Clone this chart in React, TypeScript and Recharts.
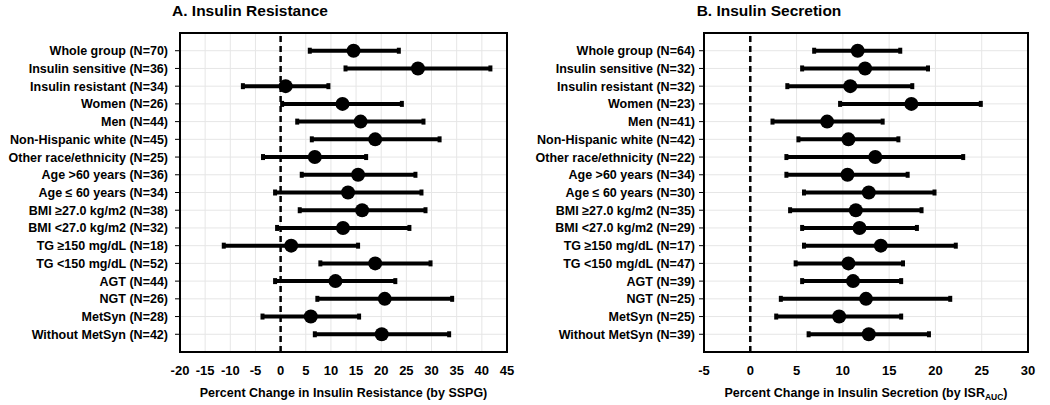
import React from 'react';
import { ScatterChart, Scatter, XAxis, YAxis, CartesianGrid, ErrorBar, ReferenceLine, ReferenceArea } from 'recharts';

const groupsA = [
  'Whole group (N=70)',
  'Insulin sensitive (N=36)',
  'Insulin resistant (N=34)',
  'Women (N=26)',
  'Men (N=44)',
  'Non-Hispanic white (N=45)',
  'Other race/ethnicity (N=25)',
  'Age >60 years (N=36)',
  'Age \u2264 60 years (N=34)',
  'BMI \u226527.0 kg/m2 (N=38)',
  'BMI <27.0 kg/m2 (N=32)',
  'TG \u2265150 mg/dL (N=18)',
  'TG <150 mg/dL (N=52)',
  'AGT (N=44)',
  'NGT (N=26)',
  'MetSyn (N=28)',
  'Without MetSyn (N=42)',
];
const changeA = [14.5, 27.3, 1.0, 12.3, 15.9, 18.8, 6.8, 15.4, 13.4, 16.2, 12.4, 2.1, 18.8, 10.9, 20.7, 6.0, 20.1];
const lowA = [5.8, 12.9, -7.5, 0.3, 3.3, 6.2, -3.5, 4.2, -1.1, 3.8, -0.7, -11.3, 7.9, -1.1, 7.3, -3.6, 6.8];
const highA = [23.5, 41.7, 9.5, 24.1, 28.4, 31.6, 17.0, 26.8, 28.0, 28.8, 25.6, 15.4, 29.8, 22.8, 34.1, 15.6, 33.5];
const ticksA = [-20, -15, -10, -5, 0, 5, 10, 15, 20, 25, 30, 35, 40, 45];

const groupsB = [
  'Whole group (N=64)',
  'Insulin sensitive (N=32)',
  'Insulin resistant (N=32)',
  'Women (N=23)',
  'Men (N=41)',
  'Non-Hispanic white (N=42)',
  'Other race/ethnicity (N=22)',
  'Age >60 years (N=34)',
  'Age \u2264 60 years (N=30)',
  'BMI \u226527.0 kg/m2 (N=35)',
  'BMI <27.0 kg/m2 (N=29)',
  'TG \u2265150 mg/dL (N=17)',
  'TG <150 mg/dL (N=47)',
  'AGT (N=39)',
  'NGT (N=25)',
  'MetSyn (N=25)',
  'Without MetSyn (N=39)',
];
const changeB = [11.6, 12.4, 10.8, 17.4, 8.3, 10.6, 13.5, 10.5, 12.8, 11.4, 11.8, 14.1, 10.6, 11.1, 12.5, 9.6, 12.8];
const lowB = [6.9, 5.6, 4.0, 9.7, 2.4, 5.2, 3.9, 3.9, 5.8, 4.3, 5.6, 5.8, 4.9, 5.6, 3.3, 2.8, 6.3];
const highB = [16.2, 19.2, 17.5, 24.9, 14.3, 16.0, 23.0, 17.0, 19.9, 18.5, 18.0, 22.2, 16.5, 16.3, 21.6, 16.3, 19.3];
const ticksB = [-5, 0, 5, 10, 15, 20, 25, 30];

const FONT = '"Liberation Sans", Arial, sans-serif';

function Forest({ groups, change, low, high, ticks, width, yWidth, right, tickGap, xLabel }: any) {
  const data = change.map((v: number, i: number) => ({
    x: v,
    row: i + 1,
    err: [v - low[i], high[i] - v],
  }));
  const rows = groups.map((_: string, i: number) => i + 1);
  const xMin = ticks[0];
  const xMax = ticks[ticks.length - 1];
  return (
    <ScatterChart width={width} height={405} margin={{ top: 33, right, bottom: 0, left: 0 }}>
      <CartesianGrid stroke="#e6e6e6" strokeWidth={1} />
      <XAxis
        type="number"
        dataKey="x"
        domain={[xMin, xMax]}
        ticks={ticks}
        interval={0}
        allowDataOverflow
        height={53}
        tickLine={false}
        axisLine={{ stroke: '#000', strokeWidth: 2 }}
        tickMargin={8}
        tick={{ fill: '#000', fontSize: 13, fontWeight: 700, fontFamily: FONT }}
        label={(p: any) => {
          const vb = p.viewBox;
          return (
            <text x={vb.x + vb.width / 2} y={vb.y + 45} textAnchor="middle" fill="#000" fontSize={12.5} fontWeight={700} fontFamily={FONT}>
              {xLabel}
            </text>
          );
        }}
      />
      <YAxis
        type="number"
        dataKey="row"
        domain={[0, 18]}
        reversed
        ticks={rows}
        interval={0}
        width={yWidth}
        tickSize={5}
        tickMargin={tickGap}
        tickLine={{ stroke: '#000' }}
        axisLine={{ stroke: '#000', strokeWidth: 2 }}
        tick={(p: any) => (
          <text x={p.x} y={p.y} dy="0.36em" textAnchor="end" fill="#000" fontSize={12.5} fontWeight={700} fontFamily={FONT}>
            {groups[p.payload.value - 1]}
          </text>
        )}
      />
      <ReferenceArea x1={xMin} x2={xMax} y1={0} y2={18} fill="none" stroke="#000" strokeWidth={2} />
      <ReferenceLine x={0} stroke="#000" strokeWidth={2.5} strokeDasharray="6 4" />
      <Scatter
        data={data}
        isAnimationActive={false}
        shape={(p: any) => <circle cx={p.cx} cy={p.cy} r={7} fill="#000" />}
      >
        <ErrorBar dataKey="err" direction="x" width={3} stroke="#000" strokeWidth={4} isAnimationActive={false} />
      </Scatter>
    </ScatterChart>
  );
}

export default function App() {
  const title: React.CSSProperties = {
    position: 'absolute',
    top: 2,
    fontFamily: FONT,
    fontWeight: 700,
    fontSize: 15.5,
    color: '#000',
    transform: 'translateX(-50%)',
    whiteSpace: 'nowrap',
  };
  return (
    <div style={{ position: 'absolute', left: 0, top: 0, width: 1050, height: 405, background: '#fff' }}>
      <div style={{ ...title, left: 250 }}>A. Insulin Resistance</div>
      <div style={{ ...title, left: 769 }}>B. Insulin Secretion</div>
      <div style={{ position: 'absolute', left: 0, top: 0 }}>
        <Forest
          groups={groupsA}
          change={changeA}
          low={lowA}
          high={highA}
          ticks={ticksA}
          width={520}
          yWidth={180}
          right={13}
          tickGap={7}
          xLabel="Percent Change in Insulin Resistance (by SSPG)"
        />
      </div>
      <div style={{ position: 'absolute', left: 520, top: 0 }}>
        <Forest
          groups={groupsB}
          change={changeB}
          low={lowB}
          high={highB}
          ticks={ticksB}
          width={530}
          yWidth={184}
          right={22}
          tickGap={4}
          xLabel={
            <>
              Percent Change in Insulin Secretion (by ISR
              <tspan fontSize={8.5} dy={3}>AUC</tspan>
              <tspan dy={-3}>)</tspan>
            </>
          }
        />
      </div>
    </div>
  );
}
